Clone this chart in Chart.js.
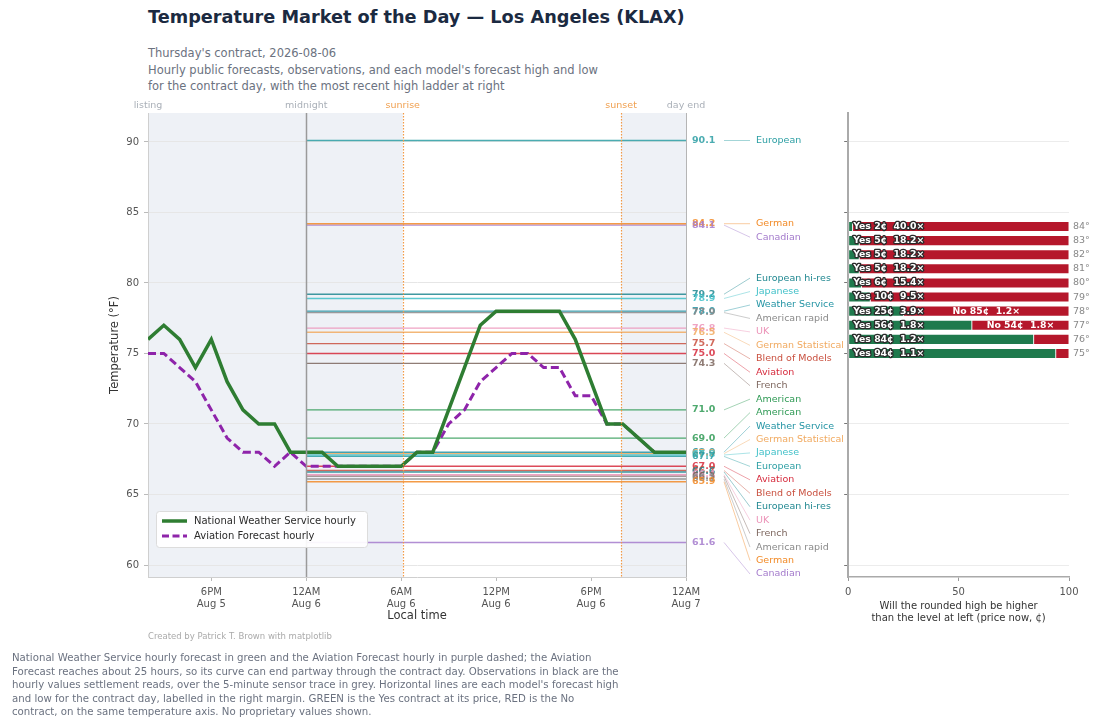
<!DOCTYPE html>
<html>
<head>
<meta charset="utf-8">
<script src="https://cdn.jsdelivr.net/npm/chart.js@4.4.1/dist/chart.umd.min.js"></script>
<style>
  body { margin: 0; width: 1100px; height: 727px; overflow: hidden; background: #fff; position: relative; font-family: "DejaVu Sans", sans-serif; }
  canvas { position: absolute; top: 0; }
  #main { left: 0; }
  #ladder { left: 840px; }
  #title { position: absolute; left: 148px; top: 7px; font-size: 17.7px; font-weight: bold; color: #1b2a41; white-space: nowrap; }
  #sub { position: absolute; left: 148px; top: 45px; font-size: 11.5px; line-height: 16.5px; color: #6b7280; white-space: nowrap; }
  #credit { position: absolute; left: 148px; top: 631px; font-size: 8.5px; color: #aaa; white-space: nowrap; }
  #note { position: absolute; left: 12px; top: 651px; font-size: 10.2px; line-height: 13.5px; color: #6b7280; white-space: nowrap; }
</style>
</head>
<body>
<div id="title">Temperature Market of the Day — Los Angeles (KLAX)</div>
<div id="sub">Thursday's contract, 2026-08-06<br>Hourly public forecasts, observations, and each model's forecast high and low<br>for the contract day, with the most recent high ladder at right</div>
<canvas id="main" width="852" height="727"></canvas>
<canvas id="ladder" width="260" height="727"></canvas>
<div id="credit">Created by Patrick T. Brown with matplotlib</div>
<div id="note">National Weather Service hourly forecast in green and the Aviation Forecast hourly in purple dashed; the Aviation<br>Forecast reaches about 25 hours, so its curve can end partway through the contract day. Observations in black are the<br>hourly values settlement reads, over the 5-minute sensor trace in grey. Horizontal lines are each model's forecast high<br>and low for the contract day, labelled in the right margin. GREEN is the Yes contract at its price, RED is the No<br>contract, on the same temperature axis. No proprietary values shown.</div>
<script>
// hours relative to midnight starting the contract day (Aug 6)
const hours = [-10, -9, -8, -7, -6, -5, -4, -3, -2, -1, 0, 1, 2, 3, 4, 5, 6, 7, 8, 9, 10, 11, 12, 13, 14, 15, 16, 17, 18, 19, 20, 21, 22, 23, 24];
const nwsTemps = [76, 77, 76, 74, 76, 73, 71, 70, 70, 68, 68, 68, 67, 67, 67, 67, 67, 68, 68, 71, 74, 77, 78, 78, 78, 78, 78, 76, 73, 70, 70, 69, 68, 68, 68];
const aviationTemps = [75, 75, 74, 73, 71, 69, 68, 68, 67, 68, 67, 67, 67, 67, 67, 67, 67, 68, 68, 70, 71, 73, 74, 75, 75, 74, 74, 72, 72, 70, 70, 69, 68];

const listingHour = -10;
const dayEndHour = 24;
const sunriseHour = 6.1;
const sunsetHour = 19.9;

const tickHours = [-6, 0, 6, 12, 18, 24];
const tickLabels = [['6PM', 'Aug 5'], ['12AM', 'Aug 6'], ['6AM', 'Aug 6'], ['12PM', 'Aug 6'], ['6PM', 'Aug 6'], ['12AM', 'Aug 7']];
const tempTicks = [60, 65, 70, 75, 80, 85, 90];

const modelNames = ['European', 'German', 'Canadian', 'European hi-res', 'Japanese', 'Weather Service', 'American rapid', 'UK', 'German Statistical', 'Blend of Models', 'Aviation', 'French', 'American'];
const modelHighs = [90.1, 84.2, 84.1, 79.2, 78.9, 78.0, 77.9, 76.8, 76.5, 75.7, 75.0, 74.3, 71.0];
const modelLows = [67.7, 65.9, 61.6, 66.6, 67.8, 68.0, 66.1, 66.4, 67.9, 66.7, 67.0, 66.3, 69.0];

// high ladder, latest prices
const ladderTemps = [84, 83, 82, 81, 80, 79, 78, 77, 76, 75];
const yesPrices = [2, 5, 5, 5, 6, 10, 25, 56, 84, 94];
const yesMultiples = [40.0, 18.2, 18.2, 18.2, 15.4, 9.5, 3.9, 1.8, 1.2, 1.1];
const noPrices = [null, null, null, null, null, null, 85, 54, null, null];
const noMultiples = [null, null, null, null, null, null, 1.2, 1.8, null, null];

const modelColors = {
  'European': '#2b9ea3',
  'German': '#f28a26',
  'Canadian': '#a47bcc',
  'European hi-res': '#1f8790',
  'Japanese': '#40c0c8',
  'Weather Service': '#2394a4',
  'American rapid': '#8a8a8a',
  'UK': '#ec93b8',
  'German Statistical': '#f1aa60',
  'Blend of Models': '#c9503f',
  'Aviation': '#d62a3c',
  'French': '#7d665e',
  'American': '#2f9a55'
};

const FONT = '"DejaVu Sans", sans-serif';
Chart.defaults.font.family = FONT;
Chart.defaults.color = '#555';

const TOP = 113;
const Y_MIN = 59.15;
const Y_MAX = 92.05;

function withAlpha(hex, a) {
  const n = parseInt(hex.slice(1), 16);
  return `rgba(${(n >> 16) & 255}, ${(n >> 8) & 255}, ${n & 255}, ${a})`;
}

// night shading, midnight / sunrise / sunset markers
const timeMarks = {
  id: 'timeMarks',
  beforeDraw(chart) {
    const { ctx, chartArea: a, scales: { x } } = chart;
    ctx.save();
    ctx.fillStyle = '#eef1f6';
    ctx.fillRect(x.getPixelForValue(listingHour), a.top, x.getPixelForValue(sunriseHour) - x.getPixelForValue(listingHour), a.bottom - a.top);
    ctx.fillRect(x.getPixelForValue(sunsetHour), a.top, x.getPixelForValue(dayEndHour) - x.getPixelForValue(sunsetHour), a.bottom - a.top);
    ctx.restore();
  },
  afterDatasetsDraw(chart) {
    const { ctx, chartArea: a, scales: { x } } = chart;
    ctx.save();
    const vline = (h, color, width, dash) => {
      const px = Math.round(x.getPixelForValue(h)) + 0.5;
      ctx.strokeStyle = color;
      ctx.lineWidth = width;
      ctx.setLineDash(dash);
      ctx.beginPath();
      ctx.moveTo(px, a.top);
      ctx.lineTo(px, a.bottom);
      ctx.stroke();
    };
    vline(0, '#9a9a9a', 1.5, []);
    vline(dayEndHour, '#b5b5b5', 1, []);
    vline(sunriseHour, '#f39a45', 1.2, [1.5, 1.5]);
    vline(sunsetHour, '#f39a45', 1.2, [1.5, 1.5]);
    ctx.setLineDash([]);

    ctx.font = '9.5px ' + FONT;
    ctx.textAlign = 'center';
    ctx.textBaseline = 'alphabetic';
    const top = [[listingHour, 'listing', '#aab0b8'], [0, 'midnight', '#aab0b8'], [sunriseHour, 'sunrise', '#f0a050'], [sunsetHour, 'sunset', '#f0a050'], [dayEndHour, 'day end', '#aab0b8']];
    top.forEach(([h, txt, c]) => {
      ctx.fillStyle = c;
      ctx.fillText(txt, x.getPixelForValue(h), a.top - 5);
    });
    ctx.restore();
  }
};

// value labels and model names in the right margin
const marginLabels = {
  id: 'marginLabels',
  afterDatasetsDraw(chart) {
    const { ctx, chartArea: a, scales: { y } } = chart;
    const items = [];
    modelNames.forEach((name, i) => {
      items.push({ name, v: modelHighs[i] });
      items.push({ name, v: modelLows[i] });
    });
    items.sort((p, q) => q.v - p.v);
    const gap = 13.45;
    const pos = items.map(it => y.getPixelForValue(it.v));
    for (let i = 1; i < pos.length; i++) pos[i] = Math.max(pos[i], pos[i - 1] + gap);
    pos[pos.length - 1] = Math.min(pos[pos.length - 1], a.bottom - 3);
    for (let i = pos.length - 2; i >= 0; i--) pos[i] = Math.min(pos[i], pos[i + 1] - gap);

    ctx.save();
    ctx.textBaseline = 'middle';
    ctx.textAlign = 'left';
    items.forEach((it, i) => {
      const c = modelColors[it.name];
      const vy = y.getPixelForValue(it.v);
      ctx.strokeStyle = withAlpha(c, 0.55);
      ctx.lineWidth = 0.8;
      ctx.beginPath();
      ctx.moveTo(a.right + 38, vy);
      ctx.lineTo(a.right + 64, pos[i]);
      ctx.stroke();
      ctx.fillStyle = withAlpha(c, 0.85);
      ctx.font = 'bold 9.5px ' + FONT;
      ctx.fillText(it.v.toFixed(1), a.right + 6, vy);
      ctx.fillStyle = c;
      ctx.font = '9.5px ' + FONT;
      ctx.fillText(it.name, a.right + 70, pos[i]);
    });
    ctx.restore();
  }
};

const legendBox = {
  id: 'legendBox',
  afterDraw(chart) {
    const { ctx } = chart;
    ctx.save();
    ctx.fillStyle = 'rgba(255,255,255,0.92)';
    ctx.strokeStyle = '#dcdcdc';
    ctx.lineWidth = 1;
    ctx.beginPath();
    ctx.roundRect(156.5, 511.5, 211, 36, 3);
    ctx.fill();
    ctx.stroke();
    ctx.lineWidth = 3.5;
    ctx.strokeStyle = '#2e7d32';
    ctx.beginPath();
    ctx.moveTo(162, 521);
    ctx.lineTo(187, 521);
    ctx.stroke();
    ctx.strokeStyle = '#8e24aa';
    ctx.lineWidth = 3;
    ctx.setLineDash([7, 3.5]);
    ctx.beginPath();
    ctx.moveTo(162, 536);
    ctx.lineTo(187, 536);
    ctx.stroke();
    ctx.setLineDash([]);
    ctx.fillStyle = '#2b2b2b';
    ctx.font = '10px ' + FONT;
    ctx.textBaseline = 'middle';
    ctx.fillText('National Weather Service hourly', 194, 521);
    ctx.fillText('Aviation Forecast hourly', 194, 536);
    ctx.restore();
  }
};

const modelSets = [];
modelNames.forEach((name, i) => {
  [modelHighs[i], modelLows[i]].forEach(v => {
    modelSets.push({
      data: [{ x: 0, y: v }, { x: dayEndHour, y: v }],
      borderColor: withAlpha(modelColors[name], 0.85),
      borderWidth: 1.4,
      pointRadius: 0,
      order: 2
    });
  });
});

new Chart(document.getElementById('main'), {
  type: 'line',
  data: {
    datasets: [
      {
        label: 'National Weather Service hourly',
        data: hours.map((h, i) => ({ x: h, y: nwsTemps[i] })),
        borderColor: '#2e7d32',
        borderWidth: 3.5,
        pointRadius: 0,
        tension: 0,
        order: 0
      },
      {
        label: 'Aviation Forecast hourly',
        data: aviationTemps.map((t, i) => ({ x: hours[i], y: t })),
        borderColor: '#8e24aa',
        borderWidth: 3,
        borderDash: [8, 4],
        pointRadius: 0,
        tension: 0,
        order: 1
      },
      ...modelSets
    ]
  },
  options: {
    responsive: false,
    animation: false,
    layout: { padding: { left: 100, right: 166, top: TOP, bottom: 104 } },
    plugins: { legend: { display: false }, tooltip: { enabled: false } },
    scales: {
      x: {
        type: 'linear',
        min: listingHour,
        max: dayEndHour,
        afterBuildTicks: s => { s.ticks = tickHours.map(v => ({ value: v })); },
        afterFit: s => { s.height = 46; },
        ticks: {
          autoSkip: false,
          maxRotation: 0,
          padding: 5,
          font: { size: 10 },
          color: '#555',
          callback: v => tickLabels[tickHours.indexOf(v)]
        },
        grid: { drawOnChartArea: false, tickLength: 4, color: '#bbb' },
        border: { color: '#cfcfcf' },
        title: { display: true, text: 'Local time', font: { size: 11.5 }, color: '#333', padding: 0 }
      },
      y: {
        min: Y_MIN,
        max: Y_MAX,
        afterBuildTicks: s => { s.ticks = tempTicks.map(v => ({ value: v })); },
        afterFit: s => { s.width = 48; },
        ticks: { font: { size: 10 }, color: '#555', padding: 5 },
        grid: { color: '#e6e6e6', tickLength: 4, tickColor: '#bbb' },
        border: { color: '#cfcfcf' },
        title: { display: true, text: 'Temperature (°F)', font: { size: 11.5 }, color: '#333', padding: { top: 8, bottom: 0 } }
      }
    }
  },
  plugins: [timeMarks, marginLabels, legendBox]
});

// labels on the ladder bars
const ladderText = {
  id: 'ladderText',
  afterDatasetsDraw(chart) {
    const { ctx, chartArea: a, scales: { x, y } } = chart;
    ctx.save();
    ctx.textBaseline = 'middle';
    ladderTemps.forEach((t, i) => {
      const py = y.getPixelForValue(t);
      ctx.font = 'bold 9.3px ' + FONT;
      ctx.textAlign = 'left';
      const txt = `Yes ${yesPrices[i]}¢  ${yesMultiples[i].toFixed(1)}×`;
      ctx.lineJoin = 'round';
      ctx.strokeStyle = '#2a2a2a';
      ctx.lineWidth = 2.6;
      ctx.strokeText(txt, a.left + 5, py);
      ctx.fillStyle = '#fff';
      ctx.fillText(txt, a.left + 5, py);
      if (noPrices[i] !== null) {
        ctx.textAlign = 'center';
        const cx = (x.getPixelForValue(yesPrices[i]) + x.getPixelForValue(100)) / 2;
        ctx.fillText(`No ${noPrices[i]}¢  ${noMultiples[i].toFixed(1)}×`, cx, py);
      }
      ctx.textAlign = 'left';
      ctx.font = '9.5px ' + FONT;
      ctx.fillStyle = '#888';
      ctx.fillText(`${t}°`, a.right + 4, py);
    });
    ctx.restore();
  }
};

new Chart(document.getElementById('ladder'), {
  type: 'bar',
  data: {
    datasets: [
      {
        label: 'Yes',
        data: ladderTemps.map((t, i) => ({ x: [0, yesPrices[i]], y: t })),
        backgroundColor: '#1f7a4d',
        borderColor: 'rgba(255,255,255,0.5)',
        borderWidth: 0.8,
        borderSkipped: false,
        barThickness: 10,
        grouped: false
      },
      {
        label: 'No',
        data: ladderTemps.map((t, i) => ({ x: [yesPrices[i], 100], y: t })),
        backgroundColor: '#b5172b',
        borderColor: 'rgba(255,255,255,0.5)',
        borderWidth: 0.8,
        borderSkipped: false,
        barThickness: 10,
        grouped: false
      }
    ]
  },
  options: {
    indexAxis: 'y',
    responsive: false,
    animation: false,
    layout: { padding: { left: 0, right: 31, top: TOP, bottom: 103 } },
    plugins: { legend: { display: false }, tooltip: { enabled: false } },
    scales: {
      x: {
        type: 'linear',
        min: 0,
        max: 100,
        afterBuildTicks: s => { s.ticks = [0, 50, 100].map(v => ({ value: v })); },
        afterFit: s => { s.height = 47; },
        ticks: { font: { size: 10 }, color: '#555', padding: 5, maxRotation: 0 },
        grid: { drawOnChartArea: false, tickLength: 4, color: '#999' },
        border: { color: '#aaa', width: 1.5 },
        title: {
          display: true,
          text: ['Will the rounded high be higher', 'than the level at left (price now, ¢)'],
          font: { size: 10 }, color: '#333', padding: 0
        }
      },
      y: {
        type: 'linear',
        min: Y_MIN,
        max: Y_MAX,
        offset: false,
        afterBuildTicks: s => { s.ticks = tempTicks.map(v => ({ value: v })); },
        afterFit: s => { s.width = 7; },
        ticks: { display: false },
        grid: { offset: false, color: '#ececec', tickLength: 4, tickColor: '#777' },
        border: { color: '#aaa', width: 2 }
      }
    }
  },
  plugins: [ladderText]
});
</script>
</body>
</html>
